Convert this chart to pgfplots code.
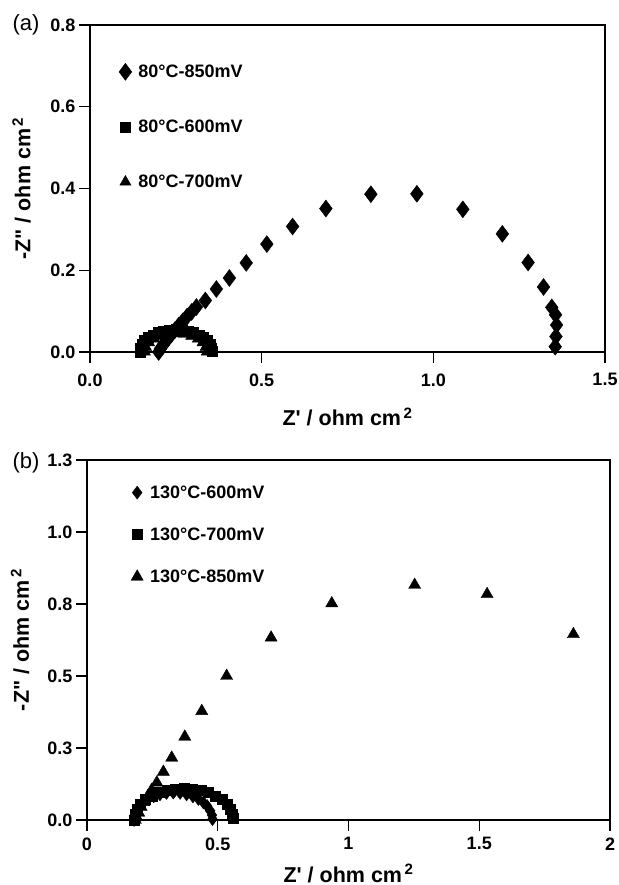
\documentclass[border=0pt]{standalone}
\usepackage{pgfplots}
\pgfplotsset{compat=1.18}
\usepackage{fontspec}
\setmainfont{Liberation Sans}
\newcommand{\tickfont}{\fontsize{18}{21}\selectfont\bfseries}
\newcommand{\labfont}{\fontsize{21.5}{24}\selectfont\bfseries}
\pgfplotsset{
  common/.style={
    scale only axis, clip=false,
    axis line style={line width=1.3pt},
    every tick/.style={line width=1.3pt, black},
    tick align=outside, major tick length=11pt,
    xtick pos=lower, ytick pos=left,
    tick label style={font=\tickfont},
    label style={font=\labfont},
    legend cell align=left,
    legend image code/.code={\path[draw=none,fill=none] (0pt,0pt) -- (17pt,0pt); \draw[mark repeat=2,mark phase=2,#1] plot coordinates {(0pt,0pt) (6pt,0pt) (12pt,0pt)};},
  },
  dia/.style={only marks, mark=diamond*, black, mark options={fill=black, line width=0.4pt}},
  sq/.style={only marks, mark=square*, black, mark options={fill=black, line width=0.4pt}},
  tri/.style={only marks, mark=triangle*, black, mark options={fill=black, line width=0.4pt}},
}
\begin{document}
\begin{tikzpicture}
\useasboundingbox (0pt,0pt) rectangle (618pt,885pt);
% ---------------- panel (a)
\begin{axis}[common,
  at={(90pt,533pt)}, anchor=south west,
  width=515pt, height=327pt,
  xmin=0, xmax=1.5, ymin=0, ymax=0.8,
  xtick={0,0.5,1,1.5}, xticklabels={0.0,0.5,1.0,1.5},
  ytick={0,0.2,0.4,0.6,0.8}, yticklabels={0.0,0.2,0.4,0.6,0.8},
  xticklabel style={yshift=-7pt},
  xlabel={Z\textquotesingle\ / ohm cm\textsuperscript{\,2}},
  ylabel={-Z\textquotedbl\ / ohm cm\textsuperscript{\,2}},
  xlabel style={at={(axis description cs:0.5,-0.198)}, anchor=center},
  ylabel style={at={(axis description cs:-0.133,0.5)}, anchor=center},
  legend style={draw=none, fill=none, inner sep=0pt, font=\tickfont,
    at={(axis description cs:0.056,0.885)}, anchor=north west,
    row sep=37pt},
]
\addplot[dia, mark size=8.5pt] coordinates {
(0.200,0.000) (0.205,0.008) (0.212,0.016) (0.220,0.025) (0.228,0.034)
(0.237,0.043) (0.247,0.053) (0.258,0.064) (0.270,0.075) (0.283,0.087)
(0.296,0.098) (0.310,0.110) (0.336,0.126) (0.368,0.154) (0.406,0.181)
(0.455,0.218) (0.515,0.264) (0.590,0.307) (0.687,0.351) (0.818,0.386)
(0.952,0.387) (1.086,0.349) (1.201,0.289) (1.276,0.219) (1.321,0.159)
(1.345,0.109) (1.356,0.091) (1.359,0.066) (1.357,0.038) (1.355,0.013)
};
\addlegendentry{80°C-850mV}
\addplot[sq, mark size=5pt] coordinates {
(0.145,0.000) (0.147,0.010) (0.151,0.019) (0.159,0.028) (0.170,0.035)
(0.183,0.042) (0.198,0.048) (0.214,0.052) (0.232,0.054) (0.250,0.055)
(0.268,0.054) (0.286,0.052) (0.302,0.048) (0.317,0.042) (0.330,0.035)
(0.341,0.028) (0.349,0.019) (0.353,0.010) (0.355,0.002)
};
\addlegendentry{80°C-600mV}
\addplot[tri, mark size=6.5pt] coordinates {
(0.160,0.000) (0.163,0.012) (0.172,0.023) (0.186,0.032) (0.205,0.039)
(0.227,0.044) (0.250,0.045) (0.273,0.044) (0.295,0.039) (0.314,0.032)
(0.328,0.023) (0.337,0.012) (0.340,0.000)
};
\addlegendentry{80°C-700mV}
\end{axis}
\node[anchor=west, font=\fontsize{22}{25}\selectfont] at (9pt,860pt) {(a)};
% ---------------- panel (b)
\begin{axis}[common,
  at={(87pt,65pt)}, anchor=south west,
  width=523pt, height=360pt,
  xmin=0, xmax=2, ymin=0, ymax=1.25,
  xtick={0,0.5,1,1.5,2}, xticklabels={0,0.5,1,1.5,2},
  ytick={0,0.25,0.5,0.75,1,1.25}, yticklabels={0.0,0.3,0.5,0.8,1.0,1.3},
  xticklabel style={yshift=-3pt},
  xlabel={Z\textquotesingle\ / ohm cm\textsuperscript{\,2}},
  ylabel={-Z\textquotedbl\ / ohm cm\textsuperscript{\,2}},
  xlabel style={at={(axis description cs:0.5,-0.148)}, anchor=center},
  ylabel style={at={(axis description cs:-0.128,0.5)}, anchor=center},
  legend style={draw=none, fill=none, inner sep=0pt, font=\tickfont,
    at={(axis description cs:0.084,0.935)}, anchor=north west,
    row sep=24pt},
]
\addplot[dia, mark size=6.5pt] coordinates {
(0.180,0.000) (0.182,0.017) (0.189,0.032) (0.200,0.048) (0.215,0.061)
(0.234,0.073) (0.255,0.082) (0.279,0.089) (0.304,0.094) (0.330,0.095)
(0.356,0.094) (0.381,0.089) (0.405,0.082) (0.426,0.073) (0.445,0.061)
(0.460,0.048) (0.471,0.032) (0.478,0.017) (0.480,0.003)
};
\addlegendentry{130°C-600mV}
\addplot[sq, mark size=5pt] coordinates {
(0.180,0.000) (0.183,0.019) (0.191,0.038) (0.205,0.055) (0.224,0.071)
(0.248,0.084) (0.275,0.095) (0.305,0.103) (0.337,0.108) (0.370,0.110)
(0.403,0.108) (0.435,0.103) (0.465,0.095) (0.492,0.084) (0.516,0.071)
(0.535,0.055) (0.549,0.038) (0.557,0.019) (0.560,0.005)
};
\addlegendentry{130°C-700mV}
\addplot[tri, mark size=7pt] coordinates {
(0.185,0.000) (0.190,0.010) (0.198,0.025) (0.207,0.045) (0.218,0.062)
(0.232,0.082) (0.247,0.104) (0.267,0.130) (0.292,0.167) (0.324,0.216)
(0.374,0.289) (0.439,0.378) (0.534,0.500) (0.704,0.633) (0.936,0.752)
(1.253,0.816) (1.530,0.784) (1.860,0.645)
};
\addlegendentry{130°C-850mV}
\end{axis}
\node[anchor=west, font=\fontsize{22}{25}\selectfont] at (9pt,422pt) {(b)};
\end{tikzpicture}
\end{document}
